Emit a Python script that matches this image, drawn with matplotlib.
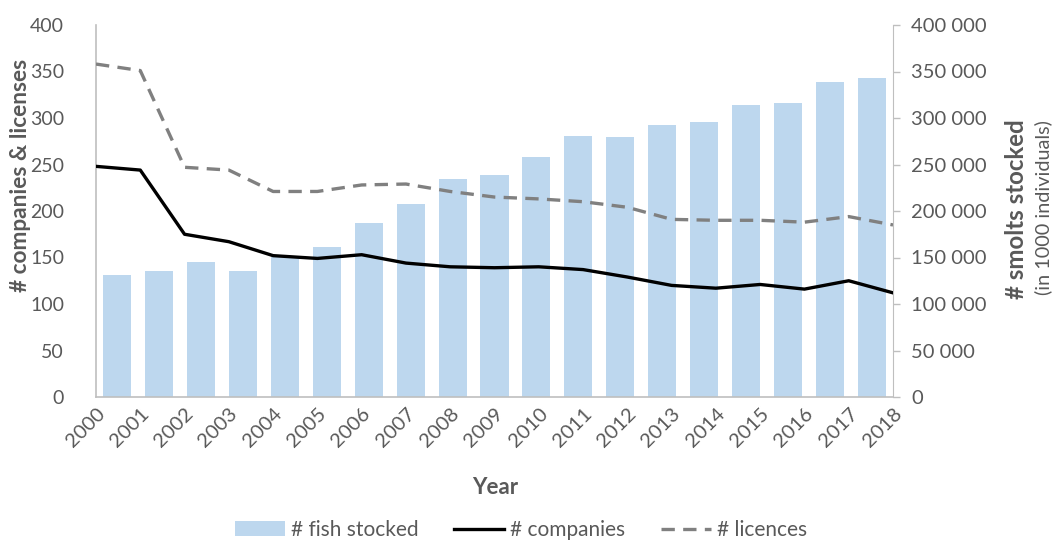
import matplotlib
matplotlib.use("Agg")
import matplotlib.pyplot as plt  # noqa: E402
from matplotlib.ticker import FuncFormatter  # noqa: E402

years = [str(y) for y in range(2000, 2019)]
fish_stocked = [131000, 136000, 145000, 135000, 151000, 161000, 187000, 208000, 234000, 239000,
                258000, 281000, 280000, 293000, 296000, 314000, 316000, 339000, 343000]
companies = [248, 244, 175, 167, 152, 149, 153, 144, 140, 139, 140, 137, 129, 120, 117, 121, 116, 125, 112]
licences = [358, 351, 247, 244, 221, 221, 228, 229, 221, 215, 213, 210, 204, 191, 190, 190, 188, 194, 185]

plt.rcParams["font.family"] = ["Lato", "DejaVu Sans"]
TXT = "#595959"
SPINE = "#bfbfbf"

fig = plt.figure(figsize=(10.56, 5.43), dpi=100)
pos = [96 / 1056, 1 - 397 / 543, (893 - 96) / 1056, (397 - 25) / 543]

# bars: own x scale (one slot per year), y on the right
axb = fig.add_axes(pos)
axb.bar([i + 0.5 for i in range(len(years))], fish_stocked, width=0.67, color="#bdd7ee",
        label="# fish stocked", zorder=1)
axb.set_xlim(0, len(years))
axb.set_ylim(0, 400000)
axb.set_xticks([])
axb.yaxis.tick_right()
axb.yaxis.set_major_formatter(FuncFormatter(lambda v, p: f"{int(v):,}".replace(",", " ")))
axb.tick_params(axis="y", colors=SPINE, labelcolor=TXT, labelsize=14.5, length=5, width=1, pad=8)
for s in ["top", "left", "bottom"]:
    axb.spines[s].set_visible(False)
axb.spines["right"].set_color(SPINE)

# lines: points on the category edges, y on the left
ax = fig.add_axes(pos)
ax.patch.set_visible(False)
x = list(range(len(years)))
ax.plot(x, companies, color="black", lw=2.4, label="# companies", zorder=3)
ax.plot(x, licences, color="#808080", lw=2.4, ls=(0, (4, 2.5)), label="# licences", zorder=3)
ax.set_xlim(0, len(years) - 1)
ax.set_ylim(0, 400)
ax.set_xticks(x)
ax.set_xticklabels(years, rotation=45, ha="right", va="top", rotation_mode="anchor")
ax.tick_params(axis="x", length=0, labelsize=14.5, labelcolor=TXT, pad=6)
ax.tick_params(axis="y", length=0, labelsize=14, labelcolor=TXT, pad=23)
for s in ["top", "right"]:
    ax.spines[s].set_visible(False)
for s in ["left", "bottom"]:
    ax.spines[s].set_color(SPINE)
    ax.spines[s].set_linewidth(1.2)

fig.text(21 / 1056, 1 - 175 / 543, "# companies & licenses", rotation=90, ha="center", va="center",
         fontsize=16.3, fontweight="bold", color=TXT)
fig.text(1017 / 1056, 1 - 209 / 543, "# smolts stocked", rotation=90, ha="center", va="center",
         fontsize=17.3, fontweight="bold", color=TXT)
fig.text(1043 / 1056, 1 - 208 / 543, "(in 1000 individuals)", rotation=90, ha="center", va="center",
         fontsize=14.3, color=TXT)
fig.text(495 / 1056, 1 - 488 / 543, "Year", ha="center", va="center",
         fontsize=16, fontweight="bold", color=TXT)

handles = axb.get_legend_handles_labels()[0] + ax.get_legend_handles_labels()[0]
labels = axb.get_legend_handles_labels()[1] + ax.get_legend_handles_labels()[1]
fig.legend(handles, labels, loc="center", bbox_to_anchor=(521 / 1056, 1 - 530 / 543), ncol=3,
           frameon=False, fontsize=15, labelcolor=TXT, handlelength=2.4, columnspacing=1.7,
           handletextpad=0.3)

fig.savefig("out.png", dpi=100)
